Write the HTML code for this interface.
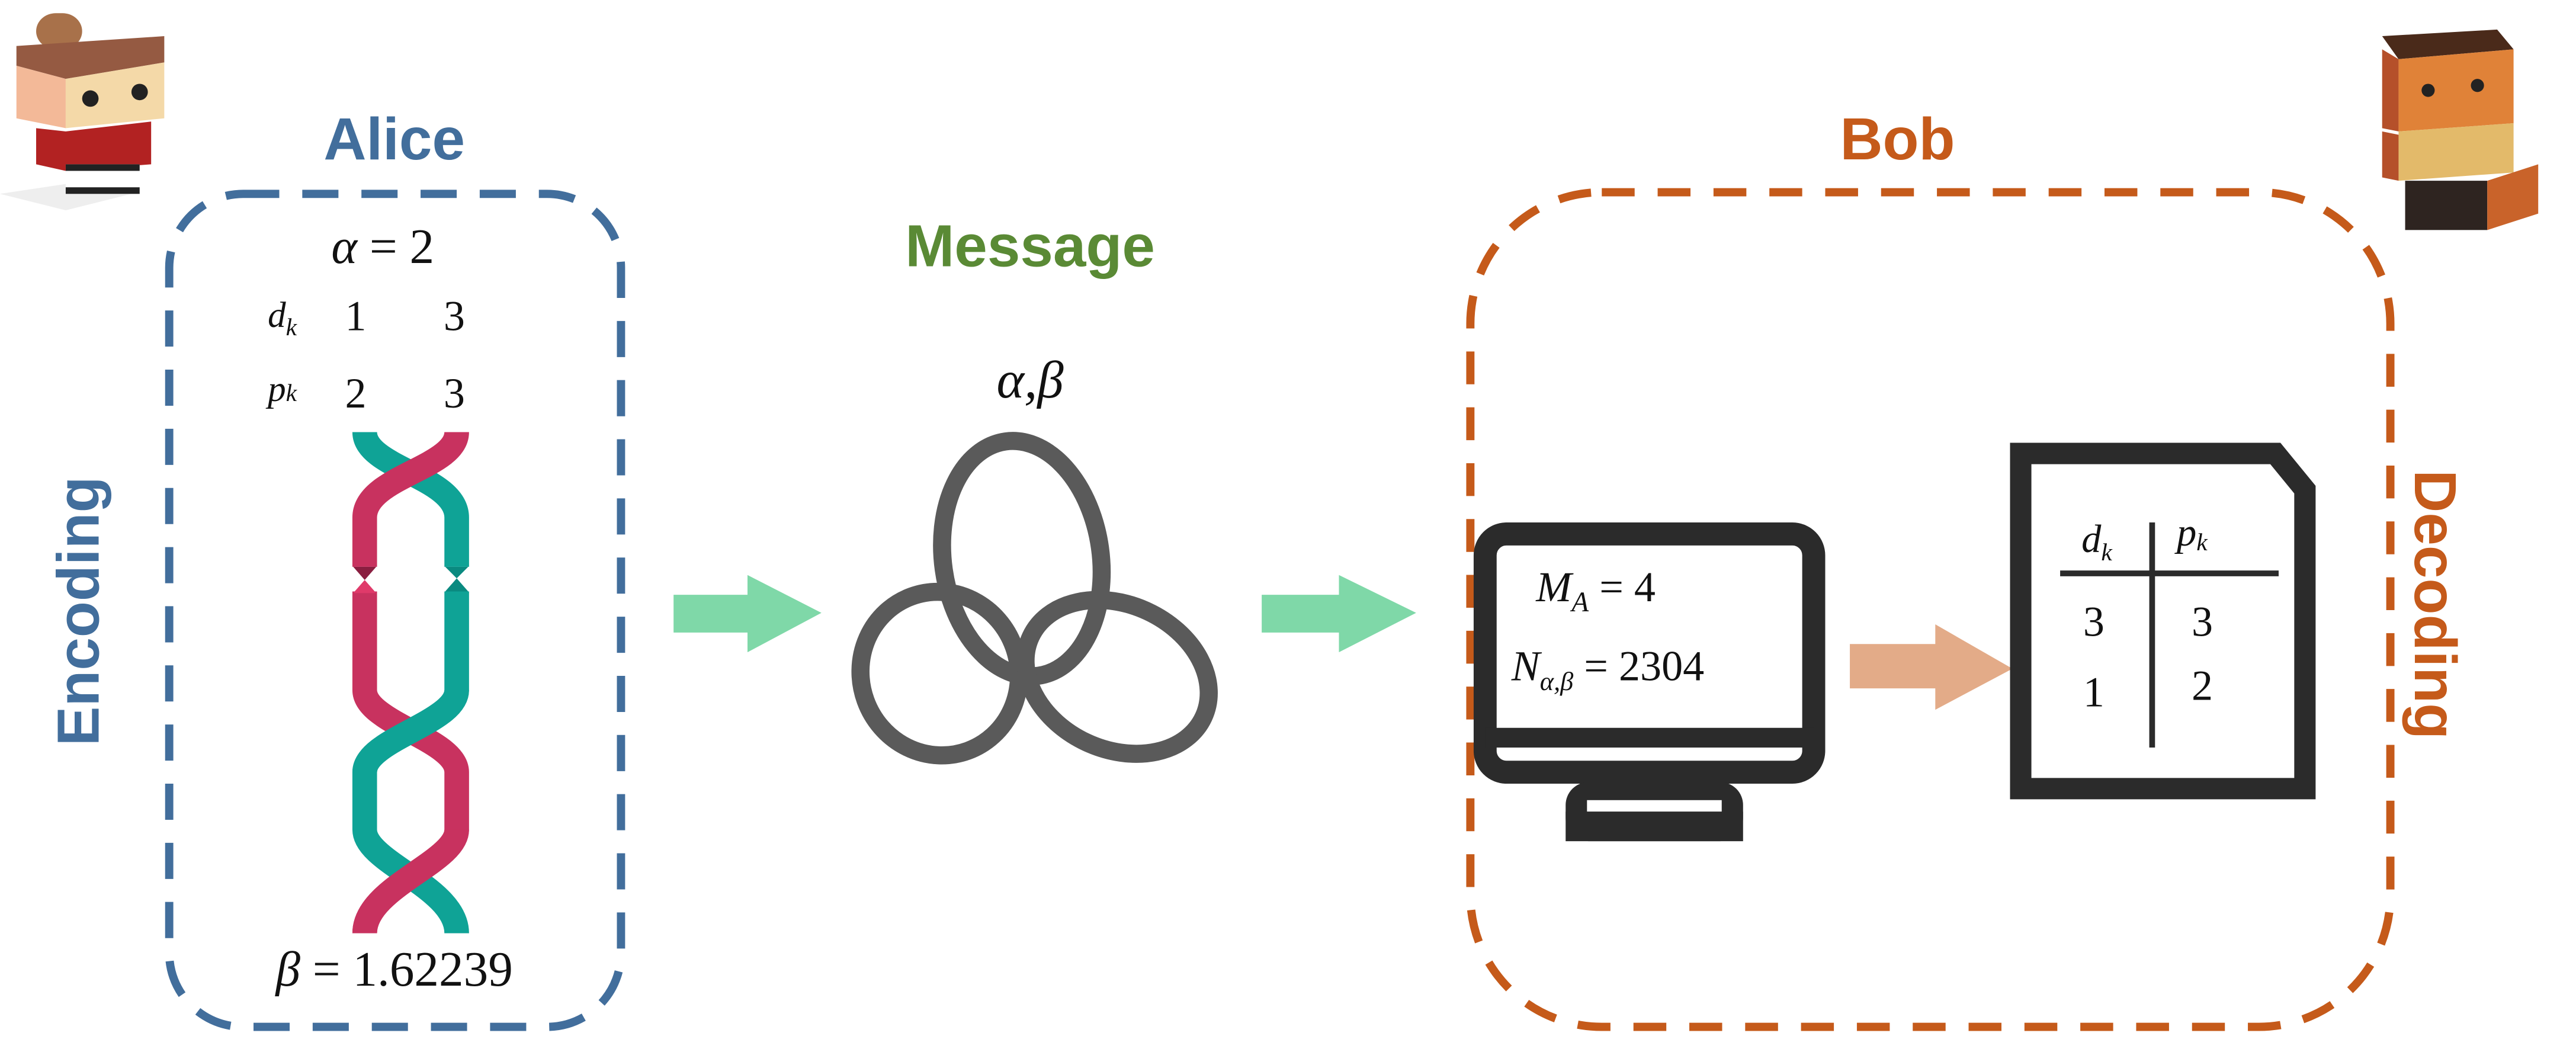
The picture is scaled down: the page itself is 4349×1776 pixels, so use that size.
<!DOCTYPE html>
<html><head><meta charset="utf-8"><style>
html,body{margin:0;padding:0;background:#fff}
svg{display:block}
.m{font-family:"Liberation Serif",serif;fill:#111}
.b{font-family:"Liberation Sans",sans-serif;font-weight:bold}
</style></head><body>
<svg width="4349" height="1776" viewBox="0 0 1568 640.3" preserveAspectRatio="none" xmlns="http://www.w3.org/2000/svg">
<!-- Alice icon -->
<g>
<polygon points="0,118 40,112 80,118 40,128" fill="#ddd" opacity="0.5"/>
<rect x="22" y="8" width="28" height="22" rx="12" fill="#a8714a"/>
<polygon points="10,28 100,22 100,38 40,48 10,40" fill="#955a42"/>
<polygon points="10,40 40,48 40,78 10,72" fill="#f3b998"/>
<polygon points="40,48 100,38 100,72 40,78" fill="#f4d9a8"/>
<circle cx="55" cy="60" r="5" fill="#222"/><circle cx="85" cy="56" r="5" fill="#222"/>
<polygon points="22,78 40,80 92,74 92,100 40,104 22,100" fill="#b22222"/>
<rect x="40" y="100" width="45" height="18" fill="#fff"/>
<rect x="40" y="100" width="45" height="4" fill="#222"/>
<rect x="40" y="114" width="45" height="4" fill="#222"/>
</g>
<!-- Alice -->
<text x="240" y="97" text-anchor="middle" class="b" font-size="36" fill="#426e9c">Alice</text>
<rect x="103" y="118" width="275" height="507" rx="45" fill="none" stroke="#426e9c" stroke-width="5" stroke-dasharray="22,14"/>
<text x="233" y="160" text-anchor="middle" class="m" font-size="30"><tspan font-style="italic">α</tspan> = 2</text>
<text x="163" y="199" class="m" font-size="22" font-style="italic">d<tspan font-size="15" dy="5">k</tspan></text>
<text x="210" y="201" class="m" font-size="26">1</text><text x="270" y="201" class="m" font-size="26">3</text>
<text x="163" y="244" class="m" font-size="22" font-style="italic">p<tspan font-size="15" dy="0">k</tspan></text>
<text x="210" y="248" class="m" font-size="26">2</text><text x="270" y="248" class="m" font-size="26">3</text>
<!-- braid -->
<g fill="none" stroke-width="15">
<path d="M222,263 C222,285 278,290 278,315 L278,345" stroke="#0fa396"/>
<path d="M278,263 C278,285 222,290 222,315 L222,345" stroke="#c8325f"/>
<path d="M222,360 L222,420 C222,440 278,450 278,470 L278,505 C278,525 222,540 222,568" stroke="#c8325f"/>
<path d="M278,360 L278,420 C278,440 222,450 222,470 L222,505 C222,525 278,540 278,568" stroke="#0fa396"/>
<path d="M278,420 C278,440 222,450 222,470" stroke="#0fa396"/>
<path d="M278,505 C278,525 222,540 222,568" stroke="#c8325f"/>
</g>
<polygon points="215,345 229,345 222,353" fill="#8a1e40"/><polygon points="215,361 229,361 222,353" fill="#e03a6a"/>
<polygon points="271,345 285,345 278,352 285,360 271,360 278,352" fill="#0a8a80"/>
<text x="240" y="600" text-anchor="middle" class="m" font-size="30"><tspan font-style="italic">β</tspan> = 1.62239</text>
<text transform="translate(60,372) rotate(-90)" text-anchor="middle" class="b" font-size="36" fill="#426e9c">Encoding</text>
<!-- arrow 1 -->
<polygon points="410,362 455,362 455,350 500,373 455,397 455,385 410,385" fill="#7fd8a8"/>
<text x="627" y="162" text-anchor="middle" class="b" font-size="36" fill="#5a8a35">Message</text>
<text x="627" y="242" text-anchor="middle" class="m" font-size="32" font-style="italic">α,β</text>
<!-- knot -->
<g fill="none" stroke="#5a5a5a" stroke-width="11">
<ellipse cx="622" cy="340" rx="48" ry="72" transform="rotate(-8 622 340)"/>
<ellipse cx="572" cy="410" rx="48" ry="50" transform="rotate(-20 572 410)"/>
<ellipse cx="680" cy="412" rx="58" ry="44" transform="rotate(25 680 412)"/>
</g>
<!-- arrow 2 -->
<polygon points="768,362 815,362 815,350 862,373 815,397 815,385 768,385" fill="#7fd8a8"/>
<!-- Bob -->
<text x="1155" y="97" text-anchor="middle" class="b" font-size="36" fill="#c55a1a">Bob</text>
<rect x="895" y="117" width="560" height="508" rx="80" fill="none" stroke="#c55a1a" stroke-width="5" stroke-dasharray="20,14"/>
<!-- Bob icon -->
<g>
<polygon points="1450,22 1520,18 1530,30 1460,36" fill="#4a2a1a"/>
<polygon points="1450,30 1460,36 1460,80 1450,78" fill="#b5502a"/>
<polygon points="1460,36 1530,30 1530,75 1460,80" fill="#e08238"/>
<circle cx="1478" cy="55" r="4" fill="#222"/><circle cx="1508" cy="52" r="4" fill="#222"/>
<polygon points="1460,80 1530,75 1530,105 1460,110" fill="#e3ba6a"/>
<polygon points="1450,80 1460,82 1460,110 1450,108" fill="#b5502a"/>
<rect x="1464" y="110" width="50" height="30" fill="#2e2420"/>
<polygon points="1514,110 1545,100 1545,130 1514,140" fill="#c9632a"/>
</g>
<!-- monitor -->
<rect x="904" y="325" width="200" height="145" rx="13" fill="none" stroke="#2b2b2b" stroke-width="14"/>
<rect x="904" y="443" width="200" height="12" fill="#2b2b2b"/>
<rect x="953" y="476" width="108" height="36" rx="14" fill="#2b2b2b"/>
<rect x="966" y="487" width="82" height="7" fill="#fff"/>
<rect x="953" y="494" width="108" height="18" fill="#2b2b2b"/>
<text x="935" y="366" class="m" font-size="26" font-style="italic">M<tspan font-size="17" dy="6">A</tspan><tspan dy="-6" font-style="normal"> = 4</tspan></text>
<text x="920" y="414" class="m" font-size="26" font-style="italic">N<tspan font-size="16" dy="6">α,β</tspan><tspan dy="-6" font-style="normal"> = 2304</tspan></text>
<!-- orange arrow -->
<polygon points="1126,392 1178,392 1178,380 1225,407 1178,432 1178,419 1126,419" fill="#e3ab88"/>
<!-- document -->
<path d="M1230,276 L1385,276 L1403,298 L1403,480 L1230,480 Z" fill="none" stroke="#2b2b2b" stroke-width="13" stroke-linejoin="miter"/>
<line x1="1254" y1="349" x2="1387" y2="349" stroke="#2b2b2b" stroke-width="3.5"/>
<line x1="1310" y1="318" x2="1310" y2="455" stroke="#2b2b2b" stroke-width="3.5"/>
<text x="1267" y="336" class="m" font-size="24" font-style="italic">d<tspan font-size="15" dy="5">k</tspan></text>
<text x="1325" y="332" class="m" font-size="24" font-style="italic">p<tspan font-size="15" dy="3">k</tspan></text>
<text x="1268" y="387" class="m" font-size="26">3</text><text x="1334" y="387" class="m" font-size="26">3</text>
<text x="1268" y="430" class="m" font-size="26">1</text><text x="1334" y="426" class="m" font-size="26">2</text>
<text transform="translate(1470,368) rotate(90)" text-anchor="middle" class="b" font-size="36" fill="#c55a1a">Decoding</text>
</svg>
</body></html>
